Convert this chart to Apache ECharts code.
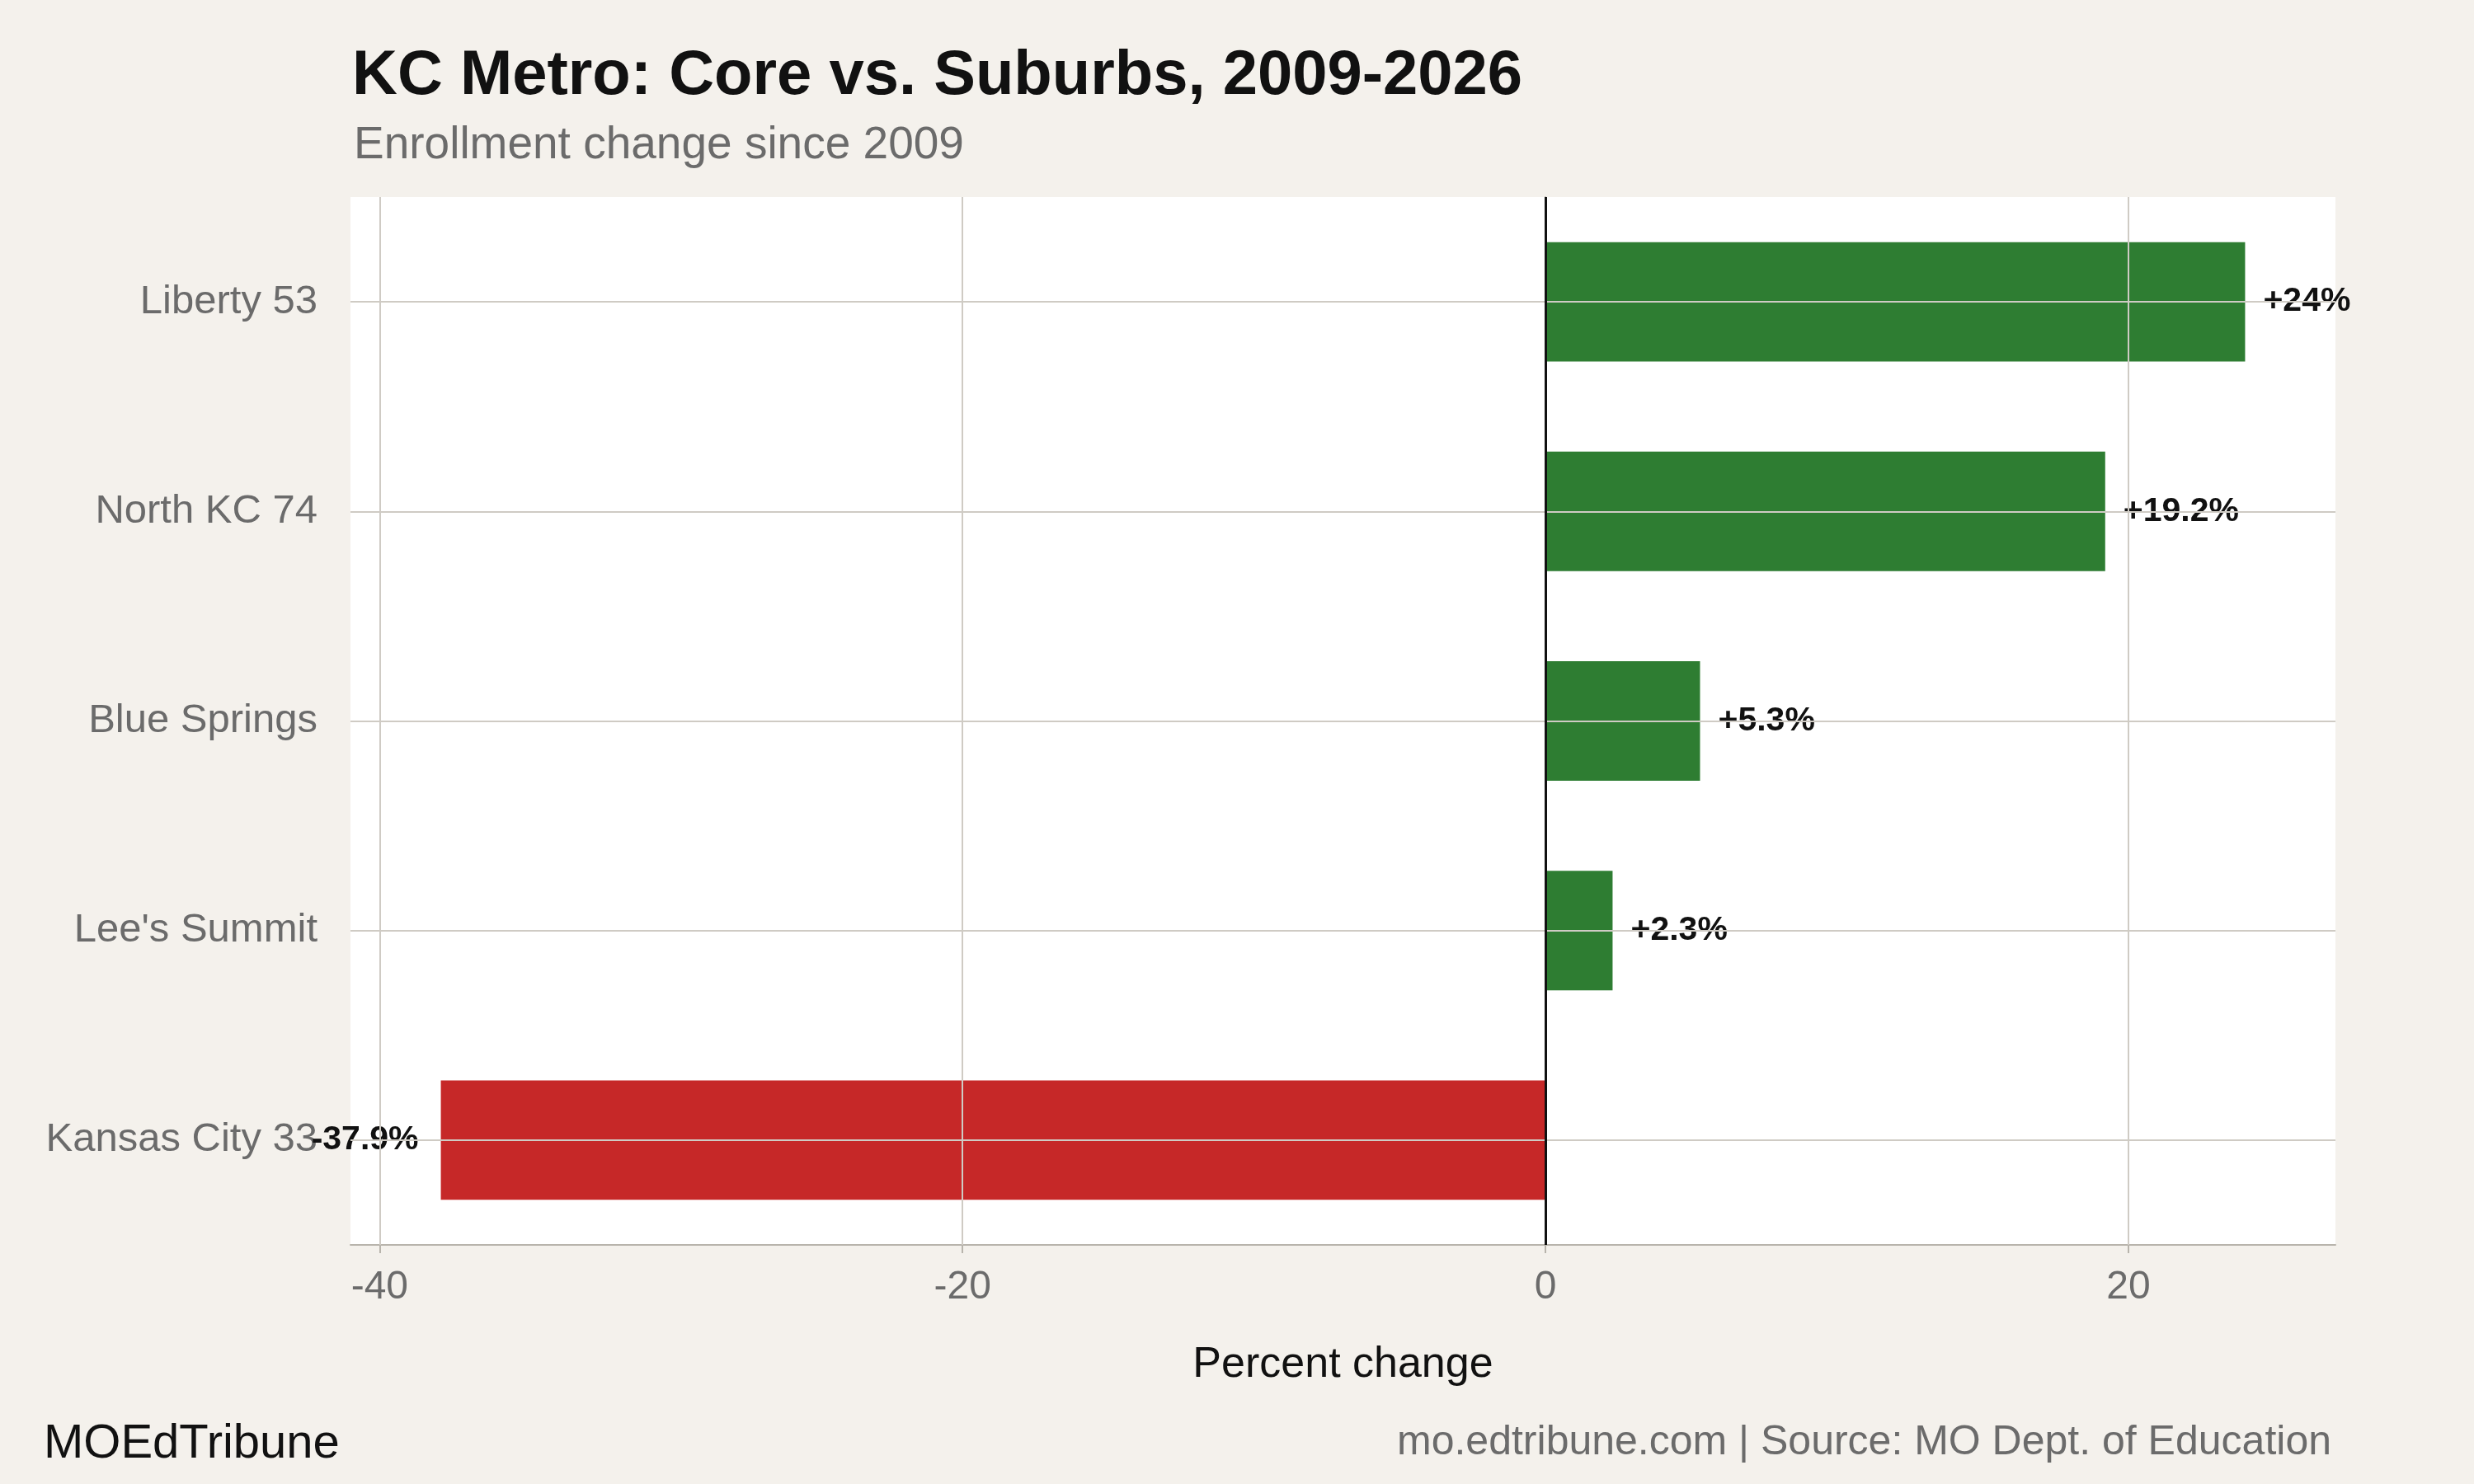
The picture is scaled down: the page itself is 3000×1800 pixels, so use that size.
<!DOCTYPE html>
<html><head><meta charset="utf-8">
<script src="https://cdn.jsdelivr.net/npm/echarts@6/dist/echarts.min.js"></script>
<style>html,body{margin:0;padding:0;background:#f4f1ec}#c{width:3000px;height:1800px}</style>
</head><body><div id="c"></div>
<script>
const categories = ["Liberty 53", "North KC 74", "Blue Springs", "Lee's Summit", "Kansas City 33"];
const values = [24, 19.2, 5.3, 2.3, -37.9];
const labels = ["+24%", "+19.2%", "+5.3%", "+2.3%", "-37.9%"];
const xTicks = [-40, -20, 0, 20];

const F = "Liberation Sans, Arial, sans-serif";
const chart = echarts.init(document.getElementById('c'));
const grid = {left:425, right:168, top:239, bottom:290};
chart.setOption({
  backgroundColor:'#f4f1ec',
  animation:false,
  title:[
    {text:'KC Metro: Core vs. Suburbs, 2009-2026', left:422, top:50,
     textStyle:{fontFamily:F, fontSize:76, fontWeight:'bold', color:'#111'}},
    {text:'Enrollment change since 2009', left:424, top:144,
     textStyle:{fontFamily:F, fontSize:55, fontWeight:'normal', color:'#6b6b6b'}},
    {text:'MOEdTribune', left:48, top:1718,
     textStyle:{fontFamily:F, fontSize:58, fontWeight:'normal', color:'#111'}},
    {text:'mo.edtribune.com | Source: MO Dept. of Education', right:168, top:1720,
     textStyle:{fontFamily:F, fontSize:50, fontWeight:'normal', color:'#6b6b6b'}}
  ],
  grid:Object.assign({backgroundColor:'#fff', show:true, borderWidth:0}, grid),
  xAxis:{type:'value', min:-41, max:27.1, name:'Percent change', nameLocation:'middle', nameGap:120,
    nameTextStyle:{fontFamily:F, fontSize:52, color:'#111'},
    axisLine:{show:true, onZero:false, lineStyle:{color:'#b8b4ac', width:2}},
    axisTick:{show:true, length:10, customValues:xTicks, lineStyle:{color:'#b8b4ac', width:2}},
    axisLabel:{customValues:xTicks, fontFamily:F, fontSize:48, color:'#6b6b6b', margin:28},
    splitLine:{show:false}},
  yAxis:{type:'category', data:categories, inverse:true,
    axisLine:{show:true, lineStyle:{color:'#b8b4ac', width:2}},
    axisTick:{show:true, alignWithLabel:true, length:10, lineStyle:{color:'#b8b4ac', width:2}},
    axisLabel:{fontFamily:F, fontSize:49, color:'#6b6b6b', margin:40},
    splitLine:{show:false}},
  series:[{
    type:'line', data:[], z:0, silent:true,
    markLine:{silent:true, symbol:'none', label:{show:false},
      data:[
        ...xTicks.filter(t=>t!==0).map(t=>({xAxis:t, lineStyle:{color:'#cfcbc4', width:2, type:'solid'}})),
        ...categories.map(c=>({yAxis:c, lineStyle:{color:'#cfcbc4', width:2, type:'solid'}}))
      ]}
  },{
    type:'bar', barCategoryGap:'43%', z:2,
    data: values.map((v,i)=>({value:v,
      itemStyle:{color: v<0 ? '#c62828' : '#2e7d32'},
      label:{show:true, position: v<0 ? 'left' : 'right', distance: v<0 ? 27 : 22,
        formatter: labels[i], fontFamily:F, fontSize:41, fontWeight:'bold', color:'#111'}})),
    markLine:{silent:true, symbol:'none', label:{show:false},
      data:[{xAxis:0, lineStyle:{color:'#111', width:3, type:'solid'}}]}
  }]
});
</script></body></html>
